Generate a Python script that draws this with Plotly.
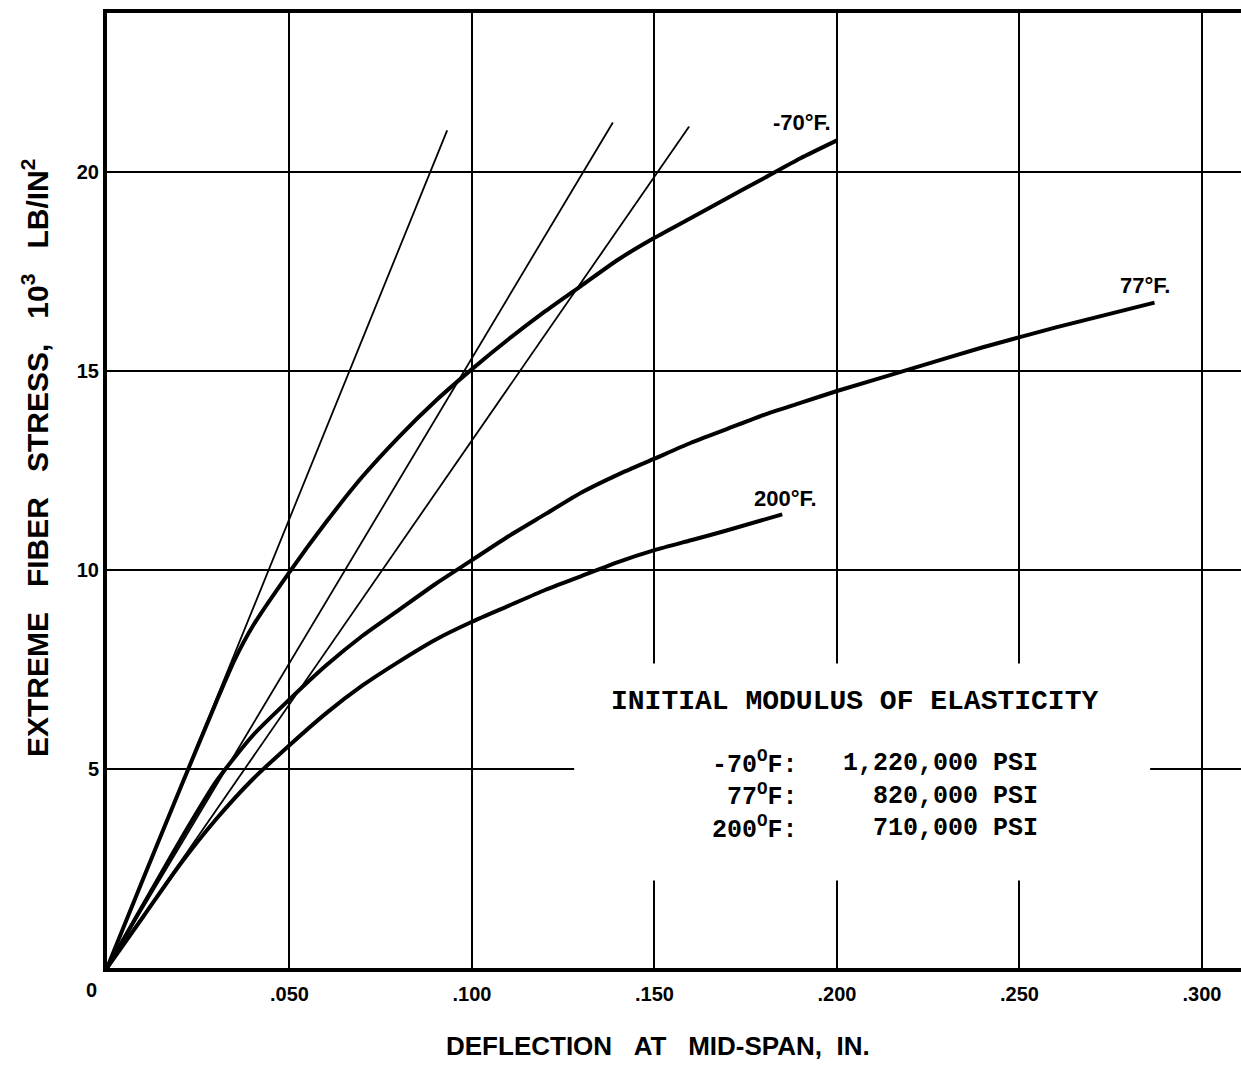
import plotly.graph_objects as go

# ---- data ----
x_m70 = [0, 0.01, 0.02, 0.03, 0.035, 0.04, 0.05, 0.06, 0.07, 0.08, 0.09, 0.10, 0.11, 0.12,
         0.13, 0.14, 0.15, 0.16, 0.17, 0.18, 0.19, 0.20]
y_m70 = [0, 2.26, 4.5, 6.7, 7.75, 8.6, 9.95, 11.2, 12.35, 13.35, 14.25, 15.05, 15.8, 16.5,
         17.15, 17.8, 18.35, 18.85, 19.35, 19.85, 20.35, 20.8]

x_77 = [0, 0.01, 0.02, 0.03, 0.04, 0.05, 0.06, 0.07, 0.08, 0.09, 0.10, 0.11, 0.12, 0.13,
        0.14, 0.15, 0.16, 0.17, 0.18, 0.19, 0.20, 0.22, 0.24, 0.26, 0.287]
y_77 = [0, 1.6, 3.2, 4.7, 5.85, 6.75, 7.6, 8.35, 9.0, 9.65, 10.25, 10.85, 11.4, 11.95,
        12.4, 12.8, 13.2, 13.55, 13.9, 14.2, 14.5, 15.05, 15.6, 16.1, 16.72]

x_200 = [0, 0.01, 0.02, 0.03, 0.04, 0.05, 0.06, 0.07, 0.08, 0.09, 0.10, 0.11, 0.12,
         0.13, 0.14, 0.15, 0.16, 0.17, 0.185]
y_200 = [0, 1.3, 2.6, 3.75, 4.75, 5.6, 6.4, 7.1, 7.7, 8.25, 8.7, 9.1, 9.5,
         9.85, 10.2, 10.5, 10.75, 11.0, 11.4]

# initial-modulus tangent lines (start at origin)
tangent_x_end = [0.0932, 0.1386, 0.1595]
tangent_y_end = [21.05, 21.25, 21.15]

curve_labels = ["-70°F.", "77°F.", "200°F."]
curve_label_x = [0.1904, 0.2844, 0.1858]
curve_label_y = [21.25, 17.16, 11.79]

x_tickvals = [0.05, 0.10, 0.15, 0.20, 0.25, 0.30]
x_ticktext = [".050", ".100", ".150", ".200", ".250", ".300"]
y_tickvals = [5, 10, 15, 20]
y_ticktext = ["5", "10", "15", "20"]
origin_label = "0"

inset_title = "INITIAL MODULUS OF ELASTICITY"
inset_temps = ["-70<sup>O</sup>F:", "77<sup>O</sup>F:", "200<sup>O</sup>F:"]
inset_values = ["1,220,000 PSI", "820,000 PSI", "710,000 PSI"]

# ---- figure ----
fig = go.Figure()

for xe, ye in zip(tangent_x_end, tangent_y_end):
    fig.add_trace(go.Scatter(x=[0, xe], y=[0, ye], mode="lines",
                             line=dict(color="black", width=1.8),
                             hoverinfo="skip", showlegend=False))

for xs, ys in [(x_m70, y_m70), (x_77, y_77), (x_200, y_200)]:
    fig.add_trace(go.Scatter(x=xs, y=ys, mode="lines",
                             line=dict(color="black", width=4, shape="spline", smoothing=0.6),
                             hoverinfo="skip", showlegend=False))

sans = "Liberation Sans, Arial, sans-serif"
mono = "Liberation Mono, Courier New, monospace"

# white box behind inset text (interrupts gridlines)
fig.add_shape(type="rect", xref="x", yref="y", x0=0.128, x1=0.2858, y0=2.2, y1=7.65,
              fillcolor="white", line=dict(width=0), layer="above")

for t, x, y in zip(curve_labels, curve_label_x, curve_label_y):
    fig.add_annotation(x=x, y=y, text=t, showarrow=False,
                       font=dict(family=sans, size=22, color="black", weight="bold"))

fig.add_annotation(x=0.2049, y=6.70, text=inset_title, showarrow=False,
                   font=dict(family=mono, size=28, color="black", weight="bold"))
fig.add_annotation(x=0.1899, y=4.33, text="<br>".join(inset_temps), showarrow=False,
                   xanchor="right", yanchor="middle", align="right",
                   font=dict(family=mono, size=25, color="black", weight="bold"))
fig.add_annotation(x=0.2556, y=4.33, text="<br>".join(inset_values), showarrow=False,
                   xanchor="right", yanchor="middle", align="right",
                   font=dict(family=mono, size=25, color="black", weight="bold"))

# shared origin label
fig.add_annotation(xref="paper", yref="paper", x=-0.0135, y=-0.023, text=origin_label,
                   showarrow=False, xanchor="center", yanchor="middle",
                   font=dict(family=sans, size=20, color="black", weight="bold"))

# axis titles
nb = "\u00a0"
fig.add_annotation(xref="paper", yref="paper", x=0.486, y=-0.082,
                   text="DEFLECTION" + nb * 3 + "AT" + nb * 3 + "MID-SPAN," + nb * 2 + "IN.",
                   showarrow=False, yanchor="middle",
                   font=dict(family=sans, size=26, color="black", weight="bold"))
fig.add_annotation(xref="paper", yref="paper", x=-0.0635, y=0.535, textangle=-90,
                   text="EXTREME" + nb * 3 + "FIBER" + nb * 3 + "STRESS," + nb * 3 + "10<sup>3</sup>"
                        + nb * 3 + "LB/IN<sup>2</sup>",
                   showarrow=False, xanchor="center", yanchor="middle",
                   font=dict(family=sans, size=30, color="black", weight="bold"))

fig.update_xaxes(range=[0, 0.3107], tickvals=x_tickvals, ticktext=x_ticktext,
                 showgrid=True, gridcolor="black", gridwidth=2,
                 showline=True, linecolor="black", linewidth=4, mirror=True,
                 zeroline=False, ticks="", ticklabelstandoff=5,
                 tickfont=dict(family=sans, size=20, color="black", weight="bold"))
fig.update_yaxes(range=[0, 24], tickvals=y_tickvals, ticktext=y_ticktext,
                 showgrid=True, gridcolor="black", gridwidth=2,
                 showline=True, linecolor="black", linewidth=4,
                 zeroline=False, ticks="", ticklabelstandoff=0,
                 tickfont=dict(family=sans, size=20, color="black", weight="bold"))

fig.update_layout(width=1241, height=1069, margin=dict(l=107, r=0, t=13, b=101),
                  plot_bgcolor="white", paper_bgcolor="white", showlegend=False)

fig.write_html("out.html")
